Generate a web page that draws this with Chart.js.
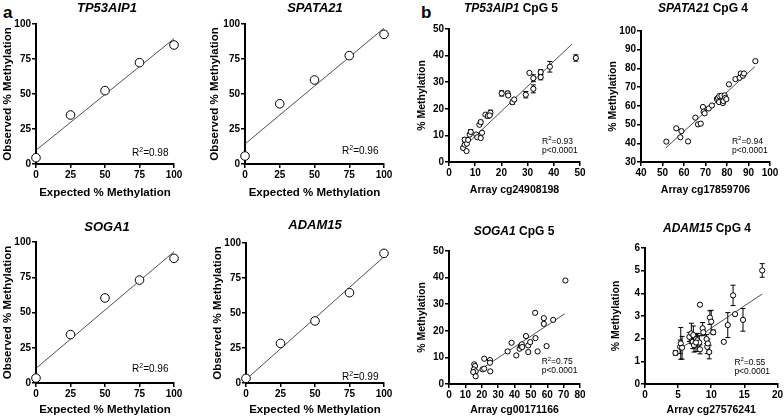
<!DOCTYPE html>
<html>
<head>
<meta charset="utf-8">
<title>Methylation validation</title>
<script src="https://cdn.jsdelivr.net/npm/chart.js@4.4.1/dist/chart.umd.min.js"></script>
<style>
  body { margin: 0; background: #fff; font-family: "Liberation Sans", Arial, sans-serif; }
  #fig { position: relative; width: 784px; height: 418px; overflow: hidden; background: #fff; }
  canvas { position: absolute; }
  .ttl { position: absolute; transform: translate(-50%, -50%); font-weight: bold; white-space: nowrap; color: #000; }
  .lbl { position: absolute; font-weight: bold; font-size: 17px; line-height: 17px; color: #000; }
</style>
</head>
<body>
<div id="fig">
  <div class="lbl" style="left:3px;top:4px">a</div>
  <div class="lbl" style="left:421px;top:4px">b</div>
</div>
<script>
// --- panel a: expected vs observed methylation (standards) ---
var expected = [0, 25, 50, 75, 100];
var tp53Observed = [4.5, 35, 52.4, 72.4, 85];
var spata21Observed = [5.7, 43, 60, 77.4, 92.6];
var soga1Observed = [3.5, 34.3, 60.3, 73, 88.4];
var adam15Observed = [3.3, 28.3, 44.3, 64.5, 92.6];
var fitEndsA = [0, 100];
var tp53FitA = [9.8, 89.5];
var spata21FitA = [14.3, 97];
var soga1FitA = [10.4, 93.1];
var adam15FitA = [2.5, 90.2];
var pctTicks = [0, 25, 50, 75, 100];

// --- panel b: array vs pyrosequencing ---
var tp53Array = [5.4, 6.7, 6.0, 6.8, 6.0, 7.3, 7.9, 8.3, 10.4, 10.8, 12.1, 12.6, 11.6, 12.1, 13.9, 14.8, 15.8, 15.5,
  20.1, 22.4, 22.6, 24.2, 24.9, 29.3, 30.7, 32.2, 32.2, 35.0, 35.0, 38.5, 48.4];
var tp53Pyro = [5.3, 4.1, 6.5, 6.9, 8.4, 8.3, 10.3, 11.3, 10.3, 9.3, 9.0, 11.0, 14.0, 15.0, 17.8, 17.3, 18.5, 17.5,
  25.8, 25.8, 25.0, 22.5, 23.5, 25.3, 33.5, 31.5, 27.5, 33.8, 31.9, 35.8, 39.1];
var tp53Err = [0.6, 0, 0, 0, 0.8, 0, 0, 0.9, 0, 0, 0, 0, 0, 0.7, 0, 0.8, 1.0, 0,
  1.0, 0.8, 0, 0.8, 0, 1.2, 0, 1.3, 1.5, 0.9, 1.0, 2.0, 1.2];
var tp53FitX = [5, 47];
var tp53FitY = [5, 44.4];

var spata21Array = [51.8, 56.4, 58.8, 58.3, 61.9, 65.3, 66.5, 67.8, 68.8, 69.1, 69.6, 71.5, 73.0, 75.3, 75.8, 76.4,
  76.3, 77.4, 78.1, 78.3, 78.9, 79.2, 79.7, 80.9, 83.9, 85.9, 86.4, 87.4, 87.9, 93.2];
var spata21Pyro = [40.9, 48.0, 46.5, 43.2, 41.0, 53.7, 50.1, 50.5, 59.4, 56.9, 56.0, 58.6, 60.2, 63.6, 64.3, 65.2,
  62.0, 65.4, 61.5, 62.6, 65.6, 64.3, 63.6, 71.5, 74.3, 75.0, 77.3, 76.1, 77.3, 83.9];
var spata21FitX = [51.5, 93];
var spata21FitY = [37.5, 81];

var soga1Array = [15.4, 15.9, 15.2, 16.3, 14.8, 16.3, 20.5, 21.5, 21.5, 25.0, 25.0, 25.2, 35.8, 38.2, 41.1, 43.1,
  43.9, 44.5, 44.7, 47.0, 48.4, 48.4, 49.6, 52.6, 52.8, 54.1, 57.9, 57.9, 59.6, 63.6, 71.1];
var soga1Pyro = [7.4, 6.75, 5.5, 4.75, 4.5, 2.9, 5.5, 5.75, 9.5, 9.0, 8.0, 4.75, 12.25, 15.5, 10.75, 13.25,
  14.25, 14.9, 13.9, 18.0, 12.0, 14.5, 15.75, 26.75, 17.25, 12.25, 24.75, 22.6, 14.25, 24.1, 38.9];
var soga1FitX = [16.9, 70.7];
var soga1FitY = [4.5, 26.4];

var adam15Array = [4.6, 5.3, 5.4, 5.6, 6.7, 7.0, 7.2, 7.4, 7.3, 7.7, 7.9, 8.2, 8.3, 8.7, 8.3, 8.8, 9.3, 9.4, 9.7,
  9.5, 9.8, 10.0, 10.3, 11.9, 12.5, 13.3, 13.6, 14.8, 17.7, 7.7];
var adam15Pyro = [1.37, 1.64, 1.79, 1.6, 2.08, 2.23, 1.86, 1.71, 2.16, 1.98, 1.93, 1.83, 1.53, 2.46, 3.5, 2.28, 1.98,
  1.64, 1.41, 1.79, 2.93, 2.75, 2.28, 1.86, 2.6, 3.91, 3.08, 2.83, 5.01, 1.83];
var adam15Err = [0.1, 0.3, 0.7, 0.5, 0.2, 0.45, 0.3, 0.3, 0.4, 0.2, 0.3, 0.3, 0.2, 0.25, 0.05, 0.15, 0.2,
  0.3, 0.3, 0.2, 0.3, 0.5, 0.1, 0, 0.55, 0.45, 0, 0.5, 0.3, 0.4];
var adam15FitX = [5.2, 17.7];
var adam15FitY = [1.53, 3.97];

var tp53Ticks = [0, 10, 20, 30, 40, 50];
var spataXTicks = [40, 50, 60, 70, 80, 90, 100];
var spataYTicks = [30, 40, 50, 60, 70, 80, 90, 100];
var sogaXTicks = [0, 10, 20, 30, 40, 50, 60, 70, 80];
var sogaYTicks = [0, 10, 20, 30, 40, 50];
var adamXTicks = [0, 5, 10, 15, 20];
var adamYTicks = [0, 1, 2, 3, 4, 5, 6];

var aX = 'Expected % Methylation', aY = 'Observed % Methylation', bY = '% Methylation';

var panels = [
  { box: [0, 0, 200, 205], area: [36, 24, 174, 164], yTitleX: 8, xTitleY: 193, axisFont: 11.5,
    gene: 'TP53AIP1', rest: '', titleAt: [107, 7], titleSize: 13,
    xTitle: aX, yTitle: aY, xRange: [0, 100], yRange: [0, 100], xTicks: pctTicks, yTicks: pctTicks,
    xs: expected, ys: tp53Observed, err: null, fitX: fitEndsA, fitY: tp53FitA, r: 4.3,
    notes: [{ text: 'R2=0.98', x: 96, y: 8, align: 'right', size: 10 }] },
  { box: [190, 0, 210, 205], area: [245, 24, 384, 164], yTitleX: 215, xTitleY: 193, axisFont: 11.5,
    gene: 'SPATA21', rest: '', titleAt: [315, 7], titleSize: 13,
    xTitle: aX, yTitle: aY, xRange: [0, 100], yRange: [0, 100], xTicks: pctTicks, yTicks: pctTicks,
    xs: expected, ys: spata21Observed, err: null, fitX: fitEndsA, fitY: spata21FitA, r: 4.3,
    notes: [{ text: 'R2=0.96', x: 96, y: 9, align: 'right', size: 10 }] },
  { box: [0, 205, 200, 213], area: [36, 242, 174, 383], yTitleX: 8, xTitleY: 410, axisFont: 11.5,
    gene: 'SOGA1', rest: '', titleAt: [107, 226], titleSize: 13,
    xTitle: aX, yTitle: aY, xRange: [0, 100], yRange: [0, 100], xTicks: pctTicks, yTicks: pctTicks,
    xs: expected, ys: soga1Observed, err: null, fitX: fitEndsA, fitY: soga1FitA, r: 4.3,
    notes: [{ text: 'R2=0.96', x: 96, y: 10, align: 'right', size: 10 }] },
  { box: [190, 205, 210, 213], area: [246, 243, 384, 383], yTitleX: 218, xTitleY: 410, axisFont: 11.5,
    gene: 'ADAM15', rest: '', titleAt: [315, 224], titleSize: 13,
    xTitle: aX, yTitle: aY, xRange: [0, 100], yRange: [0, 100], xTicks: pctTicks, yTicks: pctTicks,
    xs: expected, ys: adam15Observed, err: null, fitX: fitEndsA, fitY: adam15FitA, r: 4.3,
    notes: [{ text: 'R2=0.99', x: 96, y: 4, align: 'right', size: 10 }] },
  { box: [390, 0, 200, 205], area: [449, 29, 580, 162], yTitleX: 422, xTitleY: 190, axisFont: 10.5,
    gene: 'TP53AIP1', rest: ' CpG 5', titleAt: [511, 8], titleSize: 12,
    xTitle: 'Array cg24908198', yTitle: bY, xRange: [0, 50], yRange: [0, 50], xTicks: tp53Ticks, yTicks: tp53Ticks,
    xs: tp53Array, ys: tp53Pyro, err: tp53Err, fitX: tp53FitX, fitY: tp53FitY, r: 2.6,
    notes: [{ text: 'R2=0.93', x: 35.5, y: 7.7, align: 'left', size: 8.5 },
            { text: 'p<0.0001', x: 35.5, y: 4.1, align: 'left', size: 8.5 }] },
  { box: [590, 0, 194, 205], area: [641, 31, 770, 162], yTitleX: 613, xTitleY: 190, axisFont: 10.5,
    gene: 'SPATA21', rest: ' CpG 4', titleAt: [703, 8], titleSize: 12,
    xTitle: 'Array cg17859706', yTitle: bY, xRange: [40, 100], yRange: [30, 100], xTicks: spataXTicks, yTicks: spataYTicks,
    xs: spata21Array, ys: spata21Pyro, err: null, fitX: spata21FitX, fitY: spata21FitY, r: 2.6,
    notes: [{ text: 'R2=0.94', x: 82.3, y: 41.1, align: 'left', size: 8.5 },
            { text: 'p<0.0001', x: 82.3, y: 35.9, align: 'left', size: 8.5 }] },
  { box: [390, 205, 200, 213], area: [449, 251, 580, 384], yTitleX: 422, xTitleY: 410, axisFont: 10.5,
    gene: 'SOGA1', rest: ' CpG 5', titleAt: [514, 231], titleSize: 12,
    xTitle: 'Array cg00171166', yTitle: bY, xRange: [0, 80], yRange: [0, 50], xTicks: sogaXTicks, yTicks: sogaYTicks,
    xs: soga1Array, ys: soga1Pyro, err: null, fitX: soga1FitX, fitY: soga1FitY, r: 2.6,
    notes: [{ text: 'R2=0.75', x: 56.6, y: 8.4, align: 'left', size: 8.5 },
            { text: 'p<0.0001', x: 56.6, y: 4.9, align: 'left', size: 8.5 }] },
  { box: [590, 205, 194, 213], area: [645, 248, 781, 384], yTitleX: 616, xTitleY: 410, axisFont: 10.5,
    gene: 'ADAM15', rest: ' CpG 4', titleAt: [707, 228], titleSize: 12,
    xTitle: 'Array cg27576241', yTitle: bY, xRange: [0, 20], yRange: [0, 6], xTicks: adamXTicks, yTicks: adamYTicks,
    xs: adam15Array, ys: adam15Pyro, err: adam15Err, fitX: adam15FitX, fitY: adam15FitY, r: 2.6,
    notes: [{ text: 'R2=0.55', x: 13.5, y: 0.96, align: 'left', size: 8.5 },
            { text: 'p<0.0001', x: 13.5, y: 0.54, align: 'left', size: 8.5 }] }
];

var fig = document.getElementById('fig');
var FAMILY = '"Liberation Sans", Arial, sans-serif';

// draws "R2=..." with a raised small 2, other notes as plain text
function drawNote(ctx, n, x, y) {
  var big = n.size + 'px ' + FAMILY, small = (n.size * 0.7) + 'px ' + FAMILY;
  ctx.textAlign = 'left';
  if (n.text.indexOf('R2') !== 0) {
    ctx.font = big;
    var w0 = ctx.measureText(n.text).width;
    ctx.fillText(n.text, n.align === 'right' ? x - w0 : x, y);
    return;
  }
  var rest = n.text.slice(2);
  ctx.font = big;
  var wR = ctx.measureText('R').width, wRest = ctx.measureText(rest).width;
  ctx.font = small;
  var w2 = ctx.measureText('2').width;
  var left = n.align === 'right' ? x - (wR + w2 + wRest) : x;
  ctx.font = big;
  ctx.fillText('R', left, y);
  ctx.font = small;
  ctx.fillText('2', left + wR, y - n.size * 0.32);
  ctx.font = big;
  ctx.fillText(rest, left + wR + w2, y);
}

// error bars under the markers, R2 / p texts on top
function extras(p) {
  return {
    id: 'extras',
    beforeDatasetsDraw: function(chart) {
      if (!p.err) return;
      var ctx = chart.ctx, sx = chart.scales.x, sy = chart.scales.y;
      ctx.save();
      ctx.strokeStyle = '#000';
      ctx.lineWidth = 1;
      p.err.forEach(function(e, i) {
        if (!e) return;
        var px = sx.getPixelForValue(p.xs[i]);
        var top = sy.getPixelForValue(p.ys[i] + e);
        var bot = sy.getPixelForValue(p.ys[i] - e);
        ctx.beginPath();
        ctx.moveTo(px, top); ctx.lineTo(px, bot);
        ctx.moveTo(px - 2.5, top); ctx.lineTo(px + 2.5, top);
        ctx.moveTo(px - 2.5, bot); ctx.lineTo(px + 2.5, bot);
        ctx.stroke();
      });
      ctx.restore();
    },
    afterDraw: function(chart) {
      var ctx = chart.ctx, sx = chart.scales.x, sy = chart.scales.y;
      ctx.save();
      ctx.fillStyle = '#000';
      ctx.textBaseline = 'middle';
      p.notes.forEach(function(n) {
        drawNote(ctx, n, sx.getPixelForValue(n.x), sy.getPixelForValue(n.y));
      });
      ctx.restore();
    }
  };
}

function axis(range, ticks, fitFn, title, titlePad, fontSize) {
  return {
    type: 'linear',
    min: range[0],
    max: range[1],
    afterBuildTicks: function(s) { s.ticks = ticks.map(function(v) { return { value: v }; }); },
    afterFit: fitFn,
    ticks: { color: '#000', padding: 1, maxRotation: 0, autoSkip: false,
             font: { family: FAMILY, size: 10, weight: 'bold' } },
    grid: { display: true, drawOnChartArea: false, drawTicks: true, tickLength: 4, color: '#000', lineWidth: 1.5 },
    border: { display: true, color: '#000', width: 2 },
    title: { display: true, text: title, color: '#000', padding: titlePad,
             font: { family: FAMILY, size: fontSize, weight: 'bold' } }
  };
}

panels.forEach(function(p) {
  var c = document.createElement('canvas');
  c.width = p.box[2];
  c.height = p.box[3];
  c.style.left = p.box[0] + 'px';
  c.style.top = p.box[1] + 'px';
  fig.appendChild(c);

  var t = document.createElement('div');
  t.className = 'ttl';
  t.style.left = p.titleAt[0] + 'px';
  t.style.top = p.titleAt[1] + 'px';
  t.style.fontSize = p.titleSize + 'px';
  var gi = document.createElement('i');
  gi.textContent = p.gene;
  t.appendChild(gi);
  t.appendChild(document.createTextNode(p.rest));
  fig.appendChild(t);

  var lh = p.axisFont * 1.2;
  var yW = p.area[0] - p.box[0];
  var xH = p.box[1] + p.box[3] - p.area[3];
  var pts = p.xs.map(function(x, i) { return { x: x, y: p.ys[i] }; });

  new Chart(c, {
    type: 'scatter',
    data: {
      datasets: [
        { data: pts, pointRadius: p.r, pointHoverRadius: p.r, pointBackgroundColor: '#fff',
          pointBorderColor: '#000', pointBorderWidth: 1, clip: false },
        { type: 'line', data: [{ x: p.fitX[0], y: p.fitY[0] }, { x: p.fitX[1], y: p.fitY[1] }],
          borderColor: '#222', borderWidth: 0.8, pointRadius: 0, fill: false, clip: false }
      ]
    },
    options: {
      responsive: false,
      animation: false,
      events: [],
      layout: { autoPadding: false,
        padding: { left: 0, top: p.area[1] - p.box[1], right: p.box[0] + p.box[2] - p.area[2], bottom: 0 } },
      plugins: { legend: { display: false }, tooltip: { enabled: false } },
      scales: {
        x: axis(p.xRange, p.xTicks, function(s) { s.height = xH; }, p.xTitle,
                { top: 0, bottom: p.box[1] + p.box[3] - p.xTitleY - lh / 2 }, p.axisFont),
        y: axis(p.yRange, p.yTicks, function(s) { s.width = yW; }, p.yTitle,
                { top: p.yTitleX - p.box[0] - lh / 2, bottom: 0 }, p.axisFont)
      }
    },
    plugins: [extras(p)]
  });
});
</script>
</body>
</html>
